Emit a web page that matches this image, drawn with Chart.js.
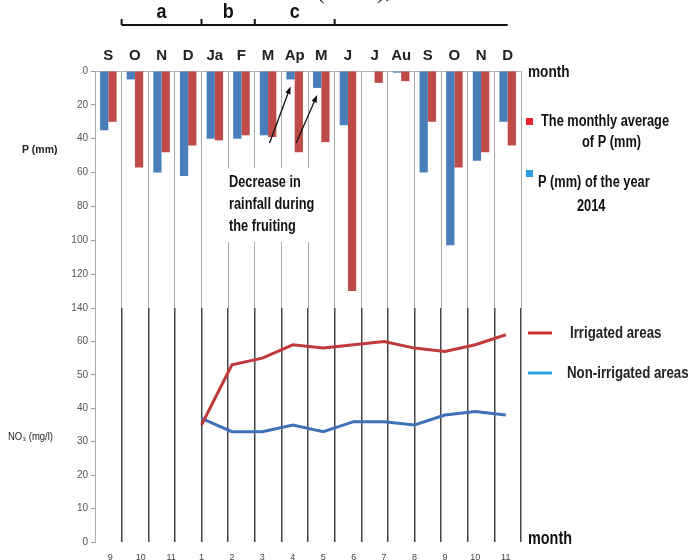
<!DOCTYPE html>
<html>
<head>
<meta charset="utf-8">
<script src="https://cdn.jsdelivr.net/npm/chart.js@4.4.0/dist/chart.umd.min.js"></script>
<style>
  body { margin: 0; background: #fff; }
  #wrap { position: relative; width: 699px; height: 560px; overflow: hidden; }
  #wrap canvas { position: absolute; left: 0; top: 0; }
</style>
</head>
<body>
<div id="wrap">
  <canvas id="rainChart" width="699" height="560"></canvas>
  <canvas id="nitrateChart" width="699" height="560"></canvas>
</div>
<script>
// Rainfall, Sep 2013 -> Dec 2014
const months = ['S', 'O', 'N', 'D', 'Ja', 'F', 'M', 'Ap', 'M', 'J', 'J', 'Au', 'S', 'O', 'N', 'D'];
const pYear2014 = [35, 5, 60, 62, 40, 40, 38, 5, 10, 32, 0, 1, 60, 103, 53, 30];
const pMonthlyAvg = [30, 57, 48, 44, 41, 38, 39, 48, 42, 130, 7, 6, 30, 57, 48, 44];
const pTicks = [0, 20, 40, 60, 80, 100, 120, 140];

// Nitrate, month numbers on the lower axis
const no3Months = ['9', '10', '11', '1', '2', '3', '4', '5', '6', '7', '8', '9', '10', '11'];
const irrigated = [null, null, null, 35, 53, 55, 59, 58, 59, 60, 58, 57, 59, 62];
const nonIrrigated = [null, null, null, 37, 33, 33, 35, 33, 36, 36, 35, 38, 39, 38];
const no3Ticks = [0, 10, 20, 30, 40, 50, 60];

const sans = '"Liberation Sans", Arial, sans-serif';

// text squeezed horizontally to look like Arial Narrow
function write(ctx, text, x, y, font, opts) {
    const o = opts || {};
    ctx.save();
    ctx.font = font;
    ctx.fillStyle = o.color || '#111';
    ctx.textAlign = o.align || 'left';
    ctx.textBaseline = 'middle';
    ctx.translate(x, y);
    ctx.scale(o.squeeze || 0.8, 1);
    ctx.fillText(text, 0, 0);
    ctx.restore();
}

function arrow(ctx, x1, y1, x2, y2) {
    const a = Math.atan2(y2 - y1, x2 - x1);
    ctx.strokeStyle = '#111';
    ctx.fillStyle = '#111';
    ctx.lineWidth = 1.3;
    ctx.beginPath();
    ctx.moveTo(x1, y1);
    ctx.lineTo(x2 - 6 * Math.cos(a), y2 - 6 * Math.sin(a));
    ctx.stroke();
    ctx.beginPath();
    ctx.moveTo(x2, y2);
    ctx.lineTo(x2 - 8 * Math.cos(a - 0.35), y2 - 8 * Math.sin(a - 0.35));
    ctx.lineTo(x2 - 8 * Math.cos(a + 0.35), y2 - 8 * Math.sin(a + 0.35));
    ctx.closePath();
    ctx.fill();
}

// annotation, brackets, legends and free labels
const notes = {
    id: 'notes',
    afterDatasetsDraw(chart) {
        const ctx = chart.ctx;
        ctx.save();
        ctx.fillStyle = '#fff';
        ctx.fillRect(226, 168, 98, 74);
        ['Decrease in', 'rainfall during', 'the fruiting'].forEach((s, i) =>
            write(ctx, s, 229, 183 + i * 22, 'bold 16px ' + sans));
        const bars = chart.getDatasetMeta(0).data;
        [7, 8].forEach(i => {
            const tipX = bars[i].x;
            const tipY = bars[i].y + 7;
            arrow(ctx, tipX - 21, 143, tipX, tipY);
        });
        ctx.restore();
    },
    afterDraw(chart) {
        const ctx = chart.ctx;
        const x = chart.scales.x;
        ctx.save();

        // caption cut off by the top edge
        ctx.font = '26px "Liberation Serif", "Times New Roman", serif';
        ctx.fillStyle = '#222';
        ctx.textAlign = 'left';
        ctx.textBaseline = 'alphabetic';
        ctx.fillText('(2014),', 316, -2);

        // a / b / c bracket over the months
        const edges = [0.5, 3.5, 5.5, 8.5].map(v => x.getPixelForValue(v));
        const right = x.getPixelForValue(15);
        ctx.strokeStyle = '#111';
        ctx.lineWidth = 2;
        ctx.beginPath();
        ctx.moveTo(edges[0], 25);
        ctx.lineTo(right, 25);
        edges.forEach(e => { ctx.moveTo(e, 25); ctx.lineTo(e, 19); });
        ctx.stroke();
        ['a', 'b', 'c'].forEach((s, i) =>
            write(ctx, s, (edges[i] + edges[i + 1]) / 2, 12, 'bold 20px ' + sans, { align: 'center', squeeze: 0.9 }));

        // axis names
        write(ctx, 'month', 528, 72, 'bold 17px ' + sans);
        write(ctx, 'month', 528, 539, 'bold 18px ' + sans);
        write(ctx, 'P (mm)', 22, 150, 'bold 11px ' + sans, { color: '#222', squeeze: 0.95 });
        write(ctx, 'NO\u2083 (mg/l)', 8, 437, '10px ' + sans, { color: '#222', squeeze: 0.95 });

        // rainfall legend
        ctx.fillStyle = '#e8262b';
        ctx.fillRect(526, 118, 7, 7);
        write(ctx, 'The monthly average', 541, 122, 'bold 16px ' + sans);
        write(ctx, 'of P (mm)', 582, 143, 'bold 16px ' + sans);
        ctx.fillStyle = '#2b9fe0';
        ctx.fillRect(526, 170, 7, 7);
        write(ctx, 'P (mm) of the year', 538, 183, 'bold 16px ' + sans);
        write(ctx, '2014', 577, 207, 'bold 16px ' + sans);

        // nitrate legend
        ctx.lineWidth = 3;
        ctx.strokeStyle = '#cc3333';
        ctx.beginPath(); ctx.moveTo(528, 333); ctx.lineTo(552, 333); ctx.stroke();
        write(ctx, 'Irrigated areas', 570, 333, 'bold 17px ' + sans, { color: '#222', squeeze: 0.78 });
        ctx.strokeStyle = '#2ea3e0';
        ctx.beginPath(); ctx.moveTo(528, 373); ctx.lineTo(552, 373); ctx.stroke();
        write(ctx, 'Non-irrigated areas', 567, 373, 'bold 17px ' + sans, { color: '#222', squeeze: 0.78 });

        ctx.restore();
    }
};

// Rainfall bars (axis reversed, 0 at top)
new Chart(document.getElementById('rainChart'), {
    type: 'bar',
    data: {
        labels: months,
        datasets: [{
            label: 'P (mm) of the year 2014',
            data: pYear2014,
            backgroundColor: '#4a7ebb'
        }, {
            label: 'The monthly average of P (mm)',
            data: pMonthlyAvg,
            backgroundColor: '#be4b48'
        }]
    },
    options: {
        responsive: false,
        animation: false,
        layout: { padding: { left: 0, top: 0, right: 178, bottom: 252 } },
        datasets: { bar: { categoryPercentage: 0.62, barPercentage: 1 } },
        plugins: { legend: { display: false }, tooltip: { enabled: false } },
        scales: {
            x: {
                position: 'top',
                grid: { color: '#a8a8a8', drawTicks: false },
                border: { color: '#b4b4b4' },
                ticks: { font: { family: sans, size: 15, weight: 'bold' }, color: '#222', padding: 6, autoSkip: false, maxRotation: 0 },
                afterFit(s) { s.height = 71; }
            },
            y: {
                reverse: true,
                min: 0,
                max: 140,
                afterBuildTicks(s) { s.ticks = pTicks.map(v => ({ value: v })); },
                ticks: { font: { family: sans, size: 10 }, color: '#555', padding: 3 },
                grid: { drawOnChartArea: false, tickLength: 4, color: '#999' },
                border: { color: '#aaa' },
                afterFit(s) { s.width = 95; }
            }
        }
    },
    plugins: [notes]
});

// Nitrate lines
new Chart(document.getElementById('nitrateChart'), {
    type: 'line',
    data: {
        labels: no3Months,
        datasets: [{
            label: 'Irrigated areas',
            data: irrigated,
            borderColor: '#c0393b',
            borderWidth: 3,
            pointRadius: 0,
            xAxisID: 'x'
        }, {
            label: 'Non-irrigated areas',
            data: nonIrrigated,
            borderColor: '#3f70b8',
            borderWidth: 3,
            pointRadius: 0,
            xAxisID: 'x'
        }]
    },
    options: {
        responsive: false,
        animation: false,
        layout: { padding: { left: 0, top: 308, right: 178, bottom: 0 } },
        plugins: { legend: { display: false }, tooltip: { enabled: false } },
        scales: {
            cols: {
                type: 'category',
                labels: months,
                position: 'bottom',
                offset: true,
                grid: { offset: true, drawTicks: false, lineWidth: 1.5, color: c => c.index === 0 ? 'rgba(0,0,0,0)' : '#444' },
                border: { display: false },
                ticks: { display: false },
                afterFit(s) { s.height = 0; }
            },
            x: {
                type: 'category',
                position: 'bottom',
                offset: true,
                grid: { display: false },
                border: { display: false },
                ticks: { font: { family: sans, size: 9 }, color: '#444', padding: 2, autoSkip: false, maxRotation: 0 },
                afterFit(s) { s.height = 18; }
            },
            y: {
                min: 0,
                max: 70,
                afterBuildTicks(s) { s.ticks = no3Ticks.map(v => ({ value: v })); },
                ticks: { font: { family: sans, size: 10 }, color: '#555', padding: 3 },
                grid: { drawOnChartArea: false, tickLength: 4, color: '#999' },
                border: { color: '#aaa' },
                afterFit(s) { s.width = 95; }
            }
        }
    }
});
</script>
</body>
</html>
